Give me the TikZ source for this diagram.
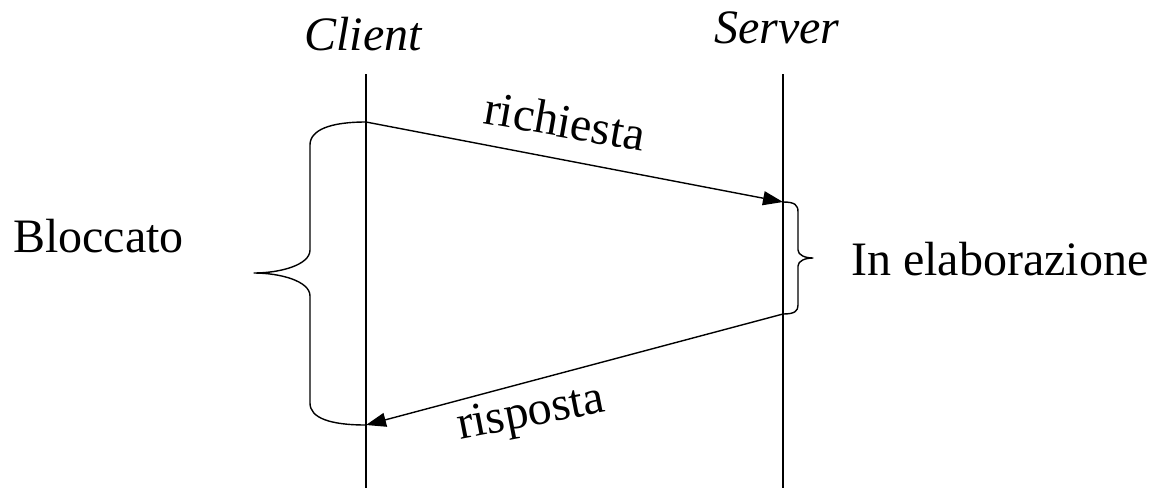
\documentclass[tikz,border=0pt]{standalone}
\usepackage{fontspec}
\setmainfont{Liberation Serif}
\usetikzlibrary{arrows.meta}
\begin{document}
\begin{tikzpicture}[x=1pt,y=-1pt,
  lbl/.style={font=\fontsize{48}{58}\selectfont, inner sep=0pt},
  ilbl/.style={font=\fontsize{48}{58}\selectfont\itshape, inner sep=0pt},
  life/.style={line width=1.4pt},
  msg/.style={line width=1.4pt, -{Triangle[length=20pt,width=14pt]}},
  brace/.style={line width=1.4pt, line join=round}]
\useasboundingbox (0,0) rectangle (1151,488);
% lifelines
\coordinate (ctop) at (366,74);
\coordinate (cbot) at (366,488);
\coordinate (stop) at (783,74);
\coordinate (sbot) at (783,488);
\draw[life] (ctop) -- (cbot);
\draw[life] (stop) -- (sbot);
% headers
\node[ilbl, anchor=base] (client) at (363,50) {Client};
\node[ilbl, anchor=base] (server) at (777,43) {Server};
% message points
\coordinate (reqS) at (366,122);
\coordinate (reqE) at (783,202);
\coordinate (resS) at (783,314);
\coordinate (resE) at (366,425);
\draw[msg] (reqS) -- (reqE);
\draw[msg] (resS) -- (resE);
\node[lbl, anchor=base west, rotate=-10] (req) at (482,123) {richiesta};
\node[lbl, anchor=base west, rotate=11] (res) at (460,440) {risposta};
% left brace
\draw[brace] (reqS) .. controls (330,122) and (310,130) .. (310,145)
  -- (310,250) .. controls (310,265) and (280,273) .. (254,273)
  .. controls (280,273) and (310,281) .. (310,296)
  -- (310,403) .. controls (310,418) and (330,425) .. (resE);
% right brace
\draw[brace] (reqE) .. controls (795,202) and (798,205) .. (798,212)
  -- (798,250) .. controls (798,255) and (805,258) .. (813,258)
  .. controls (805,258) and (798,261) .. (798,266)
  -- (798,305) .. controls (798,311) and (795,314) .. (resS);
% side labels
\node[lbl, anchor=base west] (blocc) at (13,252) {Bloccato};
\node[lbl, anchor=base west] (elab) at (851,275) {In elaborazione};
\end{tikzpicture}
\end{document}
